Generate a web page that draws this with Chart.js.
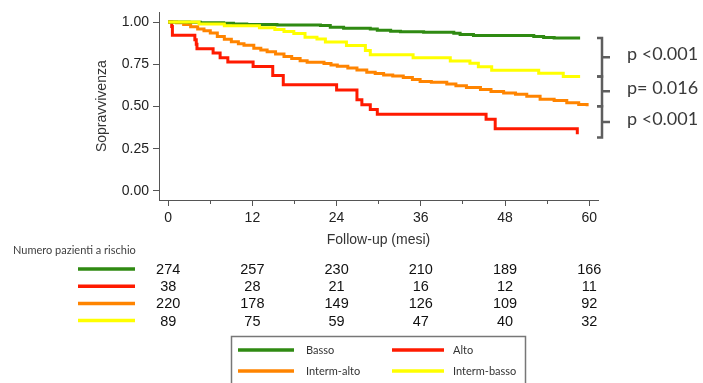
<!DOCTYPE html>
<html>
<head>
<meta charset="utf-8">
<script src="https://cdn.jsdelivr.net/npm/chart.js@4.4.1/dist/chart.umd.min.js"></script>
<style>
  body { margin: 0; background: #fff; }
  #wrap { width: 703px; height: 383px; position: relative; }
</style>
</head>
<body>
<div id="wrap"><canvas id="km"></canvas></div>
<script>
// Series names and colours (same order as the legend and the risk table)
var groupNames = ['Basso', 'Alto', 'Interm-alto', 'Interm-basso'];
var groupColors = ['#2f8a12', '#ff1a00', '#ff8400', '#ffff00'];

// Kaplan-Meier curves: time (months) and survival
var bassoT = [0, 3.0, 4.6, 7.9, 9.3, 11.2, 15.5, 21.7, 23.1, 25.0, 28.8, 29.8, 31.7, 33.1, 36.4, 40.7, 41.6, 43.5, 52.1, 53.5, 55.0, 58.7];
var bassoS = [1, 0.998, 0.996, 0.993, 0.988, 0.985, 0.983, 0.979, 0.969, 0.963, 0.959, 0.951, 0.946, 0.942, 0.94, 0.934, 0.926, 0.92, 0.914, 0.909, 0.905, 0.905];

var altoT = [0, 0.5, 0.6, 3.8, 4.0, 4.1, 6.4, 7.4, 8.5, 12.1, 14.9, 16.4, 24.0, 26.9, 27.6, 28.8, 29.8, 45.3, 46.6, 58.3];
var altoS = [1, 0.974, 0.921, 0.895, 0.868, 0.842, 0.816, 0.789, 0.763, 0.737, 0.684, 0.629, 0.598, 0.54, 0.51, 0.482, 0.454, 0.424, 0.368, 0.335];

var intAltoT = [0, 1.2, 2.2, 3.2, 4.2, 5.1, 6.0, 7.0, 8.0, 9.0, 10.0, 10.8, 12.2, 13.2, 14.1, 15.3, 16.5, 17.6, 18.8, 19.8, 22.2, 23.2, 24.1, 25.6, 26.9, 28.3, 29.5, 30.7, 32.0, 33.5, 34.8, 35.9, 37.5, 39.7, 41.0, 42.5, 44.5, 46.0, 47.8, 49.5, 51.1, 53.0, 55.0, 56.8, 58.5, 59.7];
var intAltoS = [1, 0.995, 0.985, 0.972, 0.958, 0.948, 0.935, 0.915, 0.898, 0.883, 0.871, 0.862, 0.845, 0.835, 0.824, 0.81, 0.796, 0.784, 0.77, 0.762, 0.754, 0.745, 0.738, 0.728, 0.716, 0.702, 0.695, 0.686, 0.68, 0.672, 0.66, 0.648, 0.643, 0.633, 0.622, 0.612, 0.6, 0.588, 0.579, 0.572, 0.56, 0.543, 0.535, 0.522, 0.512, 0.501];

var intBassoT = [0, 4.4, 8.0, 13.0, 15.2, 16.5, 17.9, 19.5, 21.2, 22.4, 25.4, 28.1, 28.8, 34.9, 40.2, 43.0, 44.2, 46.1, 52.8, 56.3, 58.7];
var intBassoS = [1, 0.989, 0.978, 0.966, 0.955, 0.944, 0.932, 0.91, 0.899, 0.881, 0.861, 0.832, 0.806, 0.789, 0.769, 0.756, 0.735, 0.715, 0.697, 0.678, 0.678];

// axis ticks
var xTicks = [0, 6, 12, 18, 24, 30, 36, 42, 48, 54, 60];
var yTicks = [0, 0.25, 0.5, 0.75, 1];

// number at risk table
var riskTimes = [0, 12, 24, 36, 48, 60];
var riskBasso = [274, 257, 230, 210, 189, 166];
var riskAlto = [38, 28, 21, 16, 12, 11];
var riskIntAlto = [220, 178, 149, 126, 109, 92];
var riskIntBasso = [89, 75, 59, 47, 40, 32];

// log-rank comparisons (bracket from / to survival value, label)
var pFrom = [0.905, 0.678, 0.501];
var pTo = [0.678, 0.501, 0.316];
var pLabels = ['p <0.001', 'p= 0.016', 'p <0.001'];

function toPoints(t, s) {
  var pts = [];
  for (var i = 0; i < t.length; i++) pts.push({ x: t[i], y: s[i] });
  return pts;
}

var allT = [bassoT, altoT, intAltoT, intBassoT];
var allS = [bassoS, altoS, intAltoS, intBassoS];
var allRisk = [riskBasso, riskAlto, riskIntAlto, riskIntBasso];
var drawOrder = [1, 3, 2, 0]; // yellow on top

var datasets = [];
for (var g = 0; g < groupNames.length; g++) {
  datasets.push({
    label: groupNames[g],
    data: toPoints(allT[g], allS[g]),
    borderColor: groupColors[g],
    borderWidth: 3,
    pointRadius: 0,
    stepped: 'before',
    fill: false,
    order: drawOrder[g]
  });
}

// p-values, risk table and legend box drawn on the same canvas
var extrasPlugin = {
  id: 'extras',
  afterDraw: function(chart) {
    var ctx = chart.ctx;
    var xs = chart.scales.x;
    var ys = chart.scales.y;
    ctx.save();

    // brackets + p values
    ctx.strokeStyle = '#5e5e5e';
    ctx.lineWidth = 2.5;
    ctx.font = '18px Lato';
    ctx.textBaseline = 'middle';
    ctx.textAlign = 'left';
    for (var i = 0; i < pLabels.length; i++) {
      var y1 = ys.getPixelForValue(pFrom[i]);
      var y2 = ys.getPixelForValue(pTo[i]);
      var ym = (y1 + y2) / 2;
      ctx.beginPath();
      ctx.moveTo(597, y1);
      ctx.lineTo(602, y1);
      ctx.lineTo(602, y2);
      ctx.lineTo(597, y2);
      ctx.moveTo(602, ym);
      ctx.lineTo(610, ym);
      ctx.stroke();
      ctx.fillStyle = '#3a3a3a';
      ctx.fillText(pLabels[i], 627, ym - 3);
    }

    // number at risk
    ctx.fillStyle = '#404040';
    ctx.font = '11px Lato';
    ctx.fillText('Numero pazienti a rischio', 13, 250);
    ctx.font = '14.5px "Liberation Sans"';
    ctx.textAlign = 'center';
    for (var r = 0; r < allRisk.length; r++) {
      var ry = 269 + r * 17.2;
      ctx.strokeStyle = groupColors[r];
      ctx.lineWidth = 3.5;
      ctx.beginPath();
      ctx.moveTo(78, ry);
      ctx.lineTo(135, ry);
      ctx.stroke();
      ctx.fillStyle = '#111';
      for (var j = 0; j < riskTimes.length; j++) {
        ctx.fillText(String(allRisk[r][j]), xs.getPixelForValue(riskTimes[j]), ry + 1);
      }
    }

    // legend box
    ctx.strokeStyle = '#777';
    ctx.lineWidth = 1.5;
    ctx.strokeRect(231.5, 336.5, 294, 60);
    var lx = [238, 392, 238, 392];
    var lw = [56, 52, 56, 52];
    var tx = [306, 453, 306, 453];
    var ly = [350, 350, 371, 371];
    ctx.font = '11px Lato';
    ctx.textAlign = 'left';
    for (var k = 0; k < groupNames.length; k++) {
      ctx.strokeStyle = groupColors[k];
      ctx.lineWidth = 3.5;
      ctx.beginPath();
      ctx.moveTo(lx[k], ly[k]);
      ctx.lineTo(lx[k] + lw[k], ly[k]);
      ctx.stroke();
      ctx.fillStyle = '#333';
      ctx.fillText(groupNames[k], tx[k], ly[k]);
    }
    ctx.restore();
  }
};

new Chart(document.getElementById('km'), {
  type: 'line',
  data: { datasets: datasets },
  plugins: [extrasPlugin],
  options: {
    responsive: true,
    maintainAspectRatio: false,
    animation: false,
    devicePixelRatio: 1,
    layout: { padding: { left: 0, top: 10, right: 105, bottom: 0 } },
    plugins: { legend: { display: false }, tooltip: { enabled: false } },
    scales: {
      x: {
        type: 'linear',
        min: -1.31,
        max: 61.25,
        afterBuildTicks: function(s) { s.ticks = xTicks.map(function(v) { return { value: v }; }); },
        afterFit: function(s) { s.height = 183; },
        ticks: {
          autoSkip: false,
          maxRotation: 0,
          padding: 4,
          color: '#222',
          font: { family: 'Liberation Sans', size: 14 },
          callback: function(v) { return v % 12 === 0 ? String(v) : ''; }
        },
        grid: {
          display: true,
          drawOnChartArea: false,
          drawTicks: true,
          tickLength: 6,
          tickColor: '#555',
          tickBorderDash: function(c) { return (c.tick && c.tick.value % 12 !== 0) ? [3, 20] : []; }
        },
        border: { display: true, color: '#555', width: 1 },
        title: {
          display: true,
          text: 'Follow-up (mesi)',
          color: '#333',
          font: { family: 'Liberation Sans', size: 14 },
          padding: { top: 0, bottom: 134 }
        }
      },
      y: {
        type: 'linear',
        min: -0.054,
        max: 1.057,
        afterBuildTicks: function(s) { s.ticks = yTicks.map(function(v) { return { value: v }; }); },
        afterFit: function(s) { s.width = 159; },
        ticks: {
          padding: 4,
          color: '#222',
          font: { family: 'Liberation Sans', size: 14 },
          callback: function(v) { return v.toFixed(2); }
        },
        grid: {
          display: true,
          drawOnChartArea: false,
          drawTicks: true,
          tickLength: 6,
          tickColor: '#555'
        },
        border: { display: true, color: '#555', width: 1 },
        title: {
          display: true,
          text: 'Sopravvivenza',
          color: '#333',
          font: { family: 'Liberation Sans', size: 14 },
          padding: { top: 94, bottom: 0 }
        }
      }
    }
  }
});
</script>
</body>
</html>
